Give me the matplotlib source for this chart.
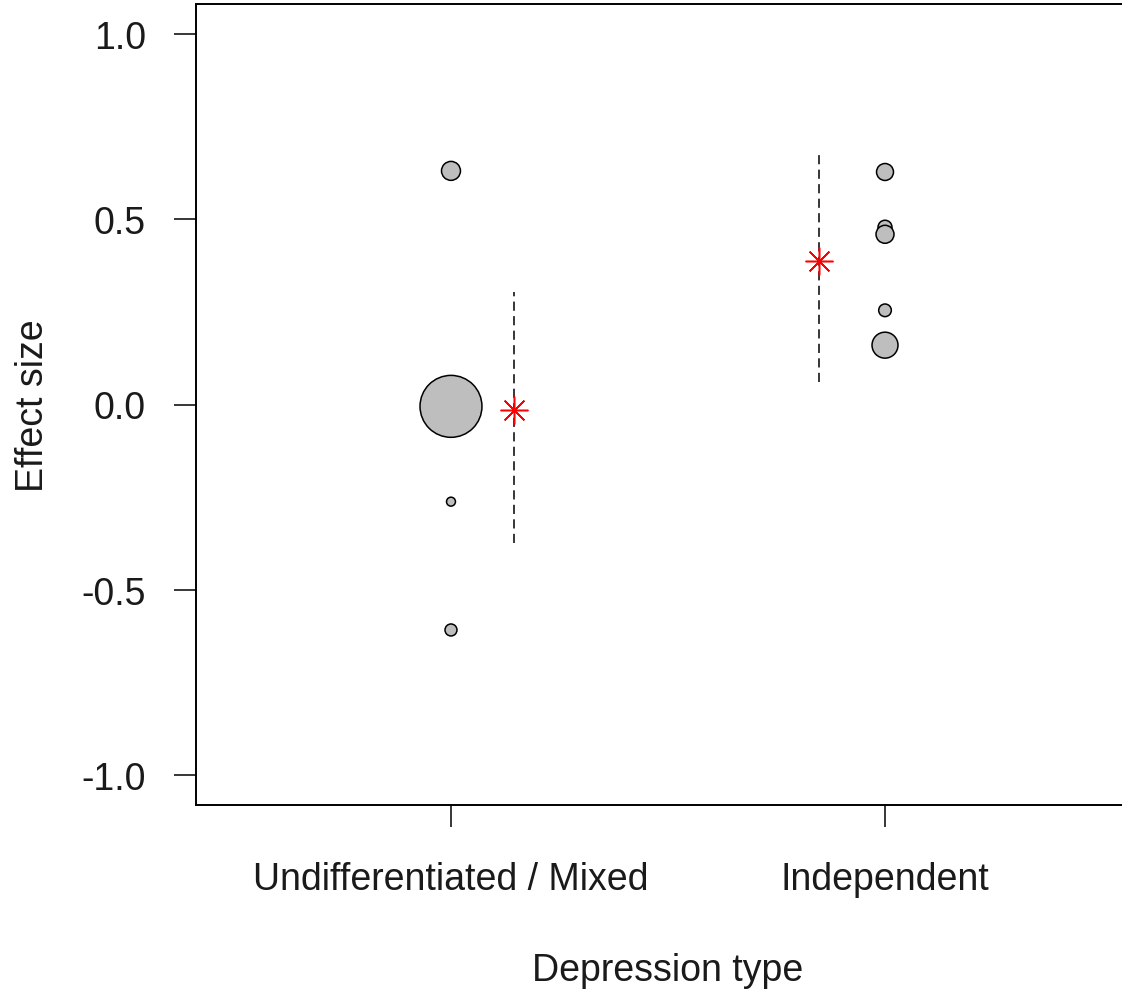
import matplotlib
matplotlib.use('Agg')
import matplotlib.pyplot as plt

plt.rcParams['font.family'] = ['Liberation Sans', 'DejaVu Sans']

# depression type groups
categories = ['Undifferentiated / Mixed', 'Independent']

# individual study effect sizes and weights (circle area ~ weight)
group_idx = [1, 1, 1, 1, 2, 2, 2, 2, 2]
effects = [0.630, -0.005, -0.262, -0.608, 0.627, 0.478, 0.459, 0.254, 0.160]
weights = [90, 961, 20, 36, 72, 49, 81, 40, 169]

# pooled estimates with confidence intervals
pooled_x = [1.145, 1.848]
pooled_est = [-0.016, 0.386]
ci_low = [-0.373, 0.062]
ci_high = [0.303, 0.684]

W, H, DPI = 1122, 995, 100
fig = plt.figure(figsize=(W / DPI, H / DPI), dpi=DPI)
ax = fig.add_axes([196 / W, 1 - 806 / H, (1140 - 196) / W, (806 - 5) / H])

# study circles
sizes = [w * 2.07 for w in weights]
ax.scatter(group_idx, effects, s=sizes, facecolor='#bebebe', edgecolor='black',
           linewidth=1.1, zorder=3)

# confidence intervals + pooled effect
for x, lo, hi in zip(pooled_x, ci_low, ci_high):
    ax.plot([x, x], [lo, hi], color='black', linewidth=1.1,
            linestyle=(0, (6, 3.5)), zorder=2)
ax.plot(pooled_x, pooled_est, linestyle='none', marker=(8, 2, 0),
        markersize=20, markeredgecolor='red', markeredgewidth=1.1, zorder=4)

ax.set_xlim(0.4125, 2.5875)
ax.set_ylim(-1.08, 1.08)
ax.set_xticks([1, 2])
ax.set_xticklabels(categories)
ax.set_yticks([-1.0, -0.5, 0.0, 0.5, 1.0])
ax.set_yticklabels(['-1.0', '-0.5', '0.0', '0.5', '1.0'])
ax.tick_params(axis='both', direction='out', length=16, width=1.1,
               labelsize=27, color='black', labelcolor='#1a1a1a')
ax.tick_params(axis='x', pad=24)
ax.tick_params(axis='y', pad=20)
for sp in ax.spines.values():
    sp.set_linewidth(1.4)

ax.set_xlabel('Depression type', fontsize=27, labelpad=40, color='#1a1a1a')
ax.set_ylabel('Effect size', fontsize=27, labelpad=22, color='#1a1a1a')

fig.savefig('out.png', dpi=DPI)
